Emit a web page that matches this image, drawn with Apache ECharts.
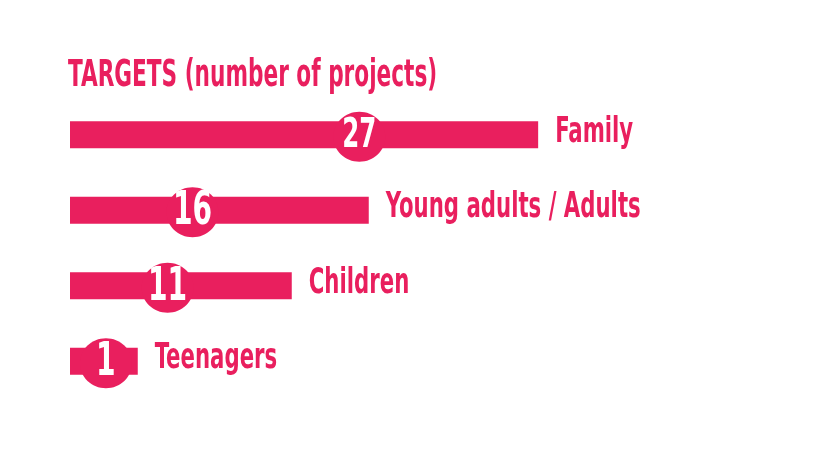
<!DOCTYPE html>
<html>
<head>
<meta charset="utf-8">
<script src="https://cdn.jsdelivr.net/npm/echarts@6/dist/echarts.min.js"></script>
<style>
  html, body { margin: 0; padding: 0; background: #fff; }
  #chart { width: 834px; height: 470px; }
</style>
</head>
<body>
<div id="chart"></div>
<script>
// ---- data ----
const titleText = 'TARGETS (number of projects)';
const categories = ['Family', 'Young adults / Adults', 'Children', 'Teenagers'];
const values = [27, 16, 11, 1];

// ---- style ----
const PINK = '#E91F5E';
const FONT = "'DejaVu Sans Condensed', 'Liberation Sans Narrow', sans-serif";
const AXIS_MIN = -3.4;
const AXIS_MAX = 30;
const BAR_H = 27;
const badgeAt = [0.618, 0.41, 0.44, 0.53];   // badge position along each bar (fraction)
const numSize = [40, 46, 46, 46];            // number font sizes

const chart = echarts.init(document.getElementById('chart'), null, { renderer: 'canvas' });

chart.setOption({
  animation: false,
  backgroundColor: '#fff',
  graphic: [{
    type: 'text',
    left: 68,
    top: 58,
    scaleX: 0.65,
    style: {
      text: titleText,
      fill: PINK,
      font: 'bold 37px ' + FONT
    }
  }],
  grid: { left: 70, right: 834 - 70 - 15.4 * (AXIS_MAX - AXIS_MIN), top: 97, height: 302 },
  xAxis: { type: 'value', min: AXIS_MIN, max: AXIS_MAX, show: false },
  yAxis: { type: 'category', data: categories, inverse: true, show: false },
  series: [{
    type: 'custom',
    data: values.map((v, i) => [v, i]),
    encode: { x: 0, y: 1 },
    renderItem: function (params, api) {
      const i = params.dataIndex;
      const v = api.value(0);
      const end = api.coord([v, api.value(1)]);
      const start = api.coord([AXIS_MIN, api.value(1)]);
      const cy = end[1];
      const bx = start[0] + (end[0] - start[0]) * badgeAt[i];
      return {
        type: 'group',
        children: [
          { type: 'rect', shape: { x: start[0], y: cy - BAR_H / 2, width: end[0] - start[0], height: BAR_H }, style: { fill: PINK } },
          { type: 'ellipse', shape: { cx: bx, cy: cy + 2, rx: 26, ry: 25 }, style: { fill: PINK } },
          { type: 'text', x: bx, y: cy + 2, scaleX: 0.68,
            style: { text: String(v), fill: '#fff', font: 'bold ' + numSize[i] + 'px ' + FONT, align: 'center', verticalAlign: 'middle' } },
          { type: 'text', x: end[0] + 17, y: cy - 2, scaleX: 0.675,
            style: { text: categories[i], fill: PINK, font: 'bold 35px ' + FONT, align: 'left', verticalAlign: 'middle' } }
        ]
      };
    }
  }]
});
</script>
</body>
</html>
